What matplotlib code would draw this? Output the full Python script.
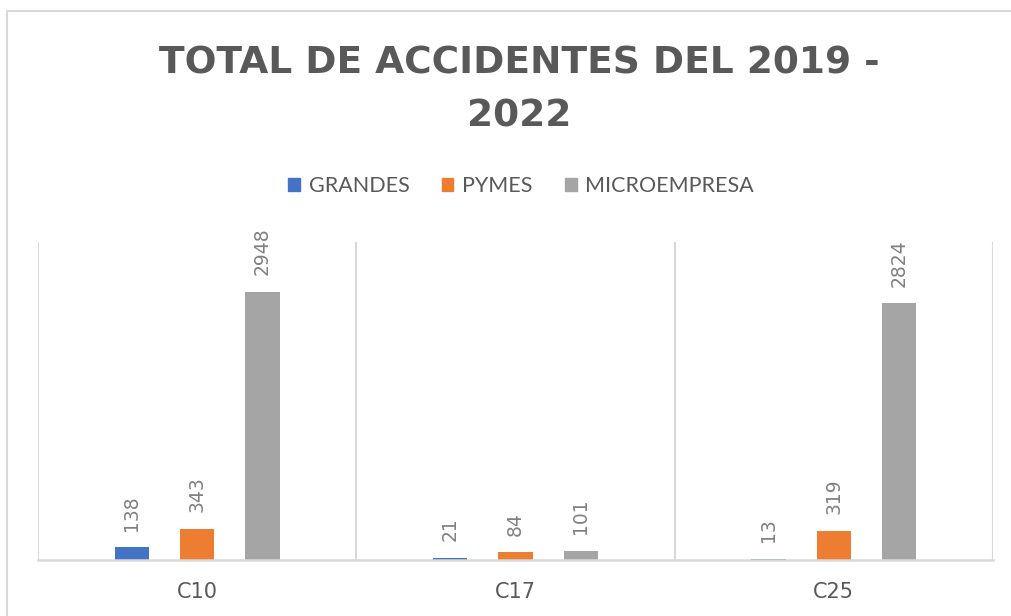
import matplotlib
matplotlib.use("Agg")
import matplotlib.pyplot as plt
from matplotlib.patches import Patch
from matplotlib.lines import Line2D
import numpy as np

categories = ["C10", "C17", "C25"]
series_names = ["GRANDES", "PYMES", "MICROEMPRESA"]
grandes = [138, 21, 13]
pymes = [343, 84, 319]
micro = [2948, 101, 2824]
colors = ["#4472C4", "#ED7D31", "#A5A5A5"]

W, H = 1011, 616
fig = plt.figure(figsize=(W / 100, H / 100), dpi=100)
fig.patch.set_facecolor("white")

ax = fig.add_axes([38 / W, 1 - 560 / H, (993 - 38) / W, (560 - 242) / H])
x = np.arange(len(categories))
offsets = [-0.205, 0.0, 0.205]
width = 0.108
grid_c = "#D9D9D9"
label_c = "#808080"
text_c = "#595959"

for vals, off, col, name in zip([grandes, pymes, micro], offsets, colors, series_names):
    bars = ax.bar(x + off, vals, width=width, color=col, label=name, zorder=3)
    for b, v in zip(bars, vals):
        ax.annotate(str(v), (b.get_x() + b.get_width() / 2, b.get_height()),
                    xytext=(0, 12), textcoords="offset points", rotation=90,
                    ha="center", va="bottom", fontsize=13.5, color=label_c,
                    family="DejaVu Sans")

ax.set_xlim(-0.5, len(categories) - 0.5)
ax.set_ylim(0, 3500)
for sep in np.arange(-0.5, len(categories), 1.0):
    ax.axvline(sep, color=grid_c, lw=1.5, zorder=1)
ax.set_yticks([])
ax.set_xticks(x)
ax.set_xticklabels(categories, fontsize=15, color=text_c, family="DejaVu Sans")
ax.tick_params(axis="x", length=0, pad=16)
for s in ["top", "right", "left"]:
    ax.spines[s].set_visible(False)
ax.spines["bottom"].set_color(grid_c)
ax.spines["bottom"].set_linewidth(1.8)
ax.spines["bottom"].set_zorder(4)

fig.text(519 / W, 1 - 90 / H, "TOTAL DE ACCIDENTES DEL 2019 -\n2022", ha="center",
         va="center", fontsize=27, fontweight="bold", color=text_c,
         family="DejaVu Sans", linespacing=1.62, multialignment="center")

handles = [Patch(facecolor=c, edgecolor=c) for c in colors]
fig.legend(handles, series_names, loc="center", bbox_to_anchor=(521 / W, 1 - 186 / H),
           ncol=3, frameon=False, labelcolor=text_c,
           handlelength=0.55, handleheight=0.55, handletextpad=0.4, columnspacing=1.5,
           prop={"family": "Lato", "size": 15.5})

fig.add_artist(Line2D([7 / W, 7 / W, 1], [0, 1 - 11 / H, 1 - 11 / H],
                      transform=fig.transFigure, color=grid_c, lw=1.5))

fig.savefig("out.png", dpi=100, facecolor="white")
